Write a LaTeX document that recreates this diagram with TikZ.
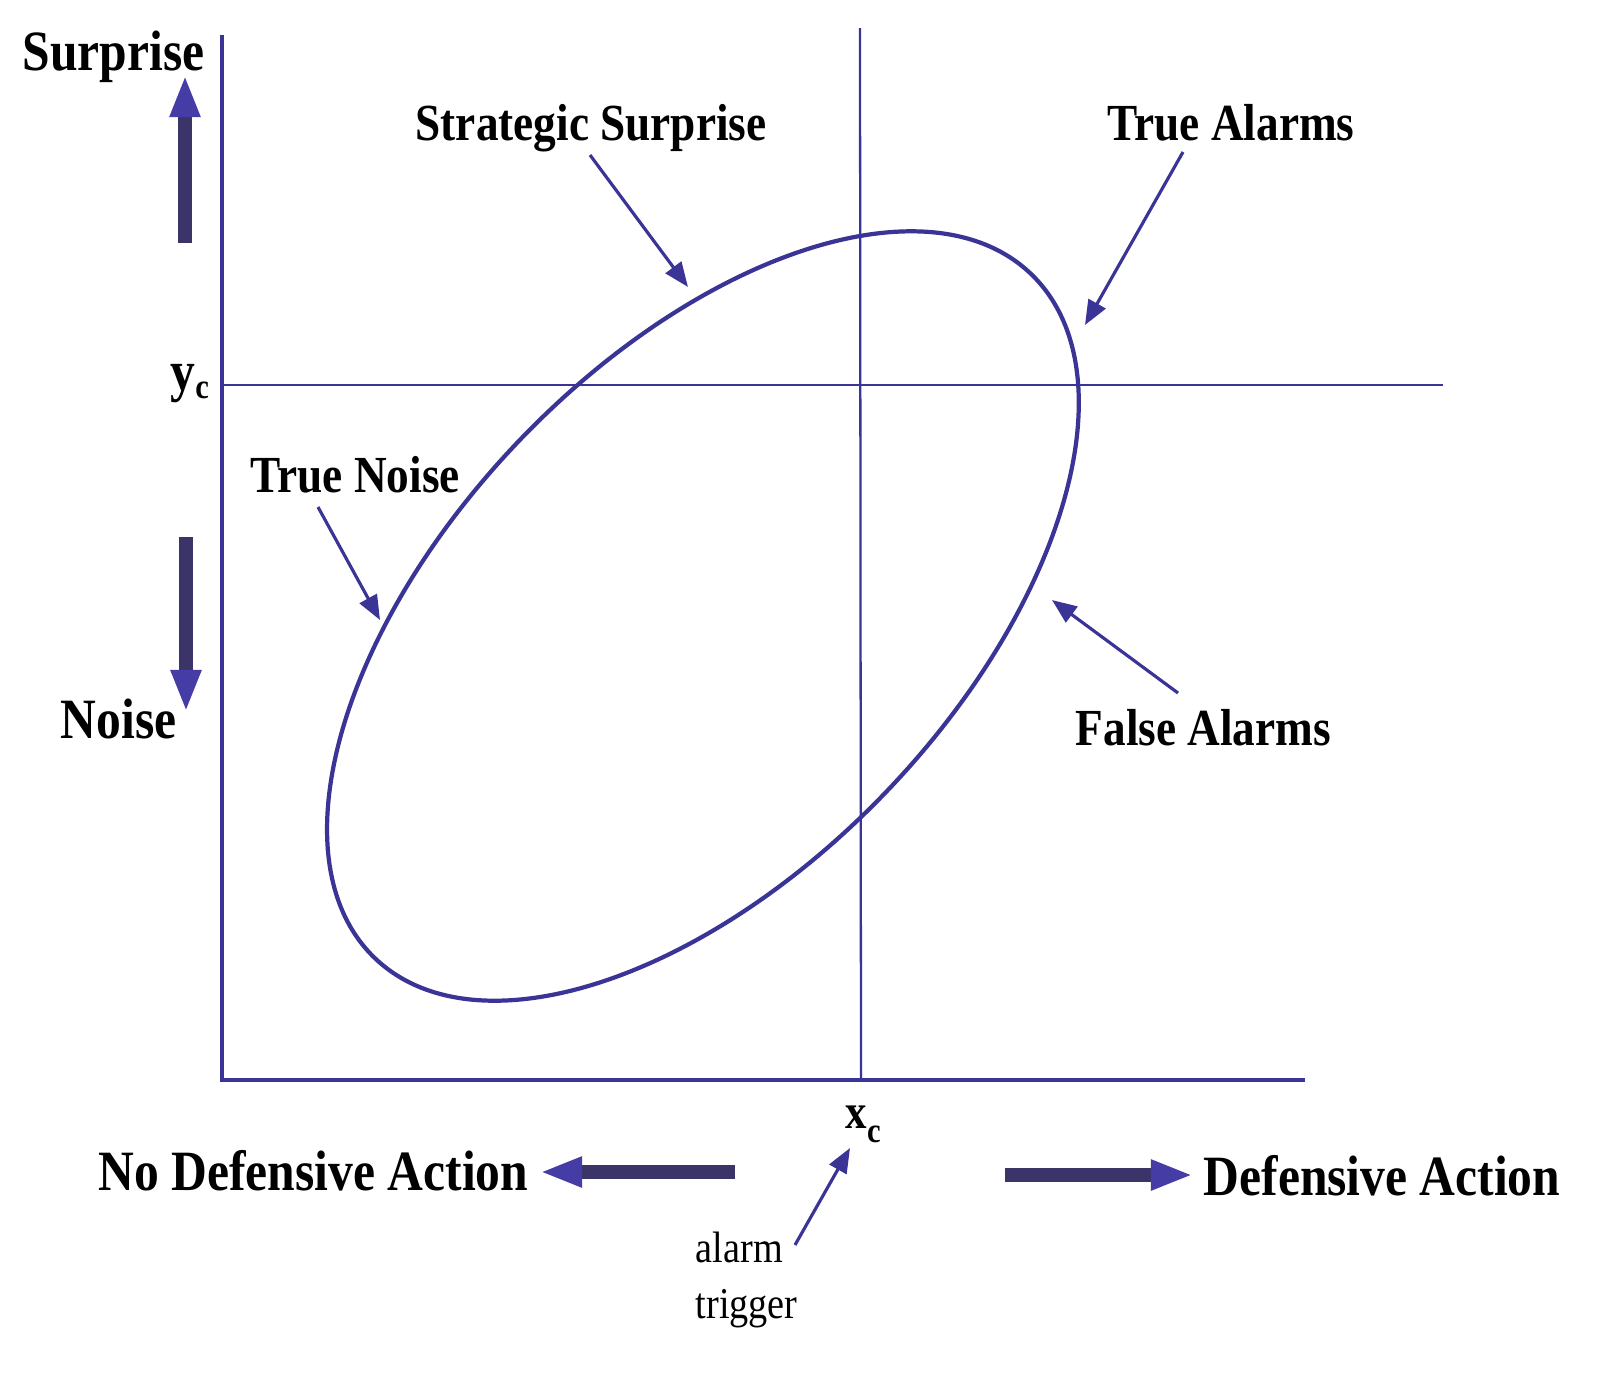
\documentclass[tikz,border=0pt]{standalone}
\usepackage{fontspec}
\setmainfont{Liberation Serif}
\newfontfamily\cond[FakeStretch=0.87]{Liberation Serif}
\usetikzlibrary{arrows.meta}
\definecolor{axisblue}{RGB}{58,52,150}
\definecolor{fatarrow}{RGB}{58,52,105}
\definecolor{tipblue}{RGB}{70,60,165}
\begin{document}
\begin{tikzpicture}[x=0.01cm,y=-0.01cm,
  axis/.style={draw=axisblue, line width=1.4pt},
  guide/.style={draw=axisblue, line width=0.65pt},
  curve/.style={draw=axisblue, line width=1.2pt},
  pointer/.style={draw=axisblue, line width=0.9pt, -{Triangle[length=7pt,width=5.5pt]}},
  fat/.style={draw=fatarrow, line width=4pt, -{Triangle[length=12pt,width=8pt,color=tipblue]}},
  big/.style={font=\cond\bfseries\fontsize{16.2}{19}\selectfont, inner sep=0pt, anchor=base west},
  lab/.style={font=\cond\bfseries\fontsize{14.8}{18}\selectfont, inner sep=0pt, anchor=base west},
  small/.style={font=\cond\fontsize{12.5}{15}\selectfont, inner sep=0pt, anchor=base west}]
\useasboundingbox (0,0) rectangle (1623,1375);

% axes and guide lines
\coordinate (yTop) at (222,35);
\coordinate (origin) at (222,1080);
\coordinate (xEnd) at (1305,1080);
\coordinate (xcTop) at (860,28);
\coordinate (xcBot) at (861,1080);
\coordinate (ycL) at (222,385);
\coordinate (ycR) at (1443,385);
\draw[guide] (xcTop) -- (xcBot);
\draw[guide] (ycL) -- (ycR);
\draw[axis] (yTop) -- (origin) -- (xEnd);

% ellipse
\coordinate (ctr) at (703,616);
\draw[curve, rotate around={46.2:(ctr)}] (ctr) ellipse [x radius=474, y radius=254];

% labels
\node[big] (surprise) at (22,70) {Surprise};
\node[big] (noise) at (60,738) {Noise};
\node[big] (nodef) at (98,1190) {No Defensive Action};
\node[big] (def) at (1203,1195) {Defensive Action};
\node[lab] (ss) at (415,140) {Strategic Surprise};
\node[lab] (ta) at (1107,140) {True Alarms};
\node[lab] (tn) at (250,492) {True Noise};
\node[lab] (fa) at (1075,745) {False Alarms};
\node[big] (yc) at (170,390) {y\raisebox{-2.5pt}{\fontsize{10}{12}\selectfont c}};
\node[big, font=\cond\bfseries\fontsize{14}{17}\selectfont] (xc) at (845,1128) {x\raisebox{-4pt}{\fontsize{10}{12}\selectfont c}};
\node[small] (alarm) at (695,1262) {alarm};
\node[small] (trigger) at (695,1318) {trigger};

% fat direction arrows
\coordinate (upS) at (185,243);  \coordinate (upE) at (185,75);
\coordinate (dnS) at (186,537);  \coordinate (dnE) at (186,712);
\coordinate (lfS) at (735,1172); \coordinate (lfE) at (540,1172);
\coordinate (rtS) at (1005,1175); \coordinate (rtE) at (1193,1175);
\draw[fat] (upS) -- (upE);
\draw[fat] (dnS) -- (dnE);
\draw[fat] (lfS) -- (lfE);
\draw[fat] (rtS) -- (rtE);

% pointer arrows
\coordinate (ssS) at (590,155);  \coordinate (ssE) at (688,287);
\coordinate (taS) at (1183,152); \coordinate (taE) at (1085,325);
\coordinate (tnS) at (318,507);  \coordinate (tnE) at (380,620);
\coordinate (faS) at (1178,693); \coordinate (faE) at (1052,600);
\coordinate (alS) at (795,1245); \coordinate (alE) at (850,1148);
\draw[pointer] (ssS) -- (ssE);
\draw[pointer] (taS) -- (taE);
\draw[pointer] (tnS) -- (tnE);
\draw[pointer] (faS) -- (faE);
\draw[pointer] (alS) -- (alE);
\end{tikzpicture}
\end{document}
